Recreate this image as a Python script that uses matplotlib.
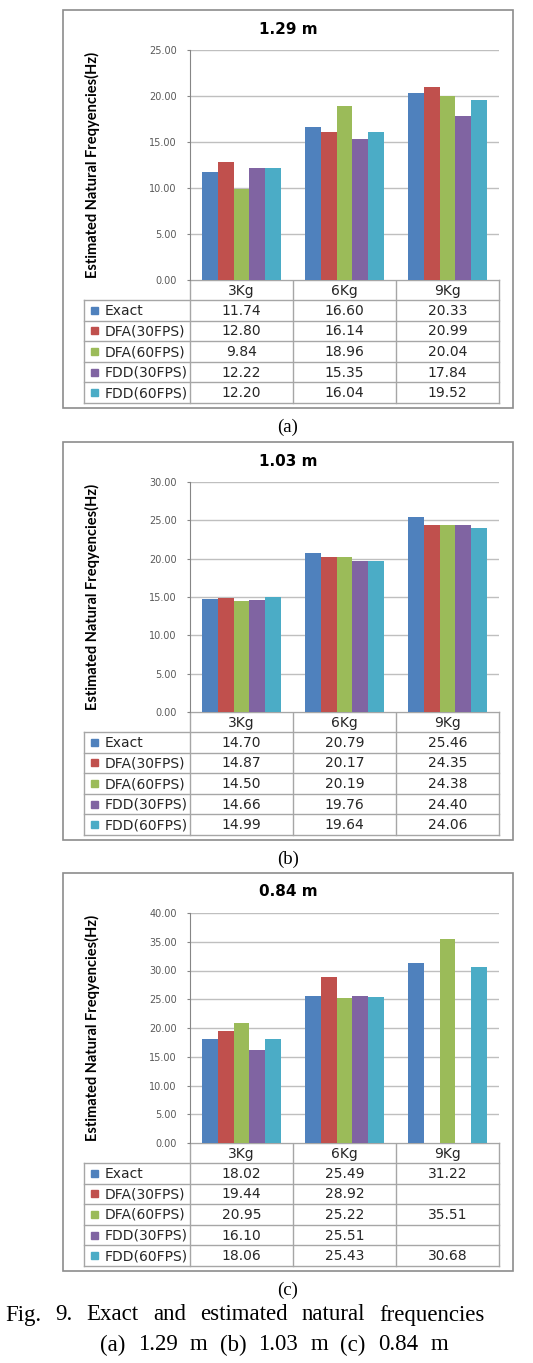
import matplotlib
matplotlib.use("Agg")
import matplotlib.pyplot as plt
from matplotlib.patches import Rectangle
from matplotlib.ticker import FormatStrFormatter
import numpy as np

# === Data ===
categories = ["3Kg", "6Kg", "9Kg"]
series_names = ["Exact", "DFA(30FPS)", "DFA(60FPS)", "FDD(30FPS)", "FDD(60FPS)"]
colors = ["#4F81BD", "#C0504D", "#9BBB59", "#8064A2", "#4BACC6"]

titles = ["1.29 m", "1.03 m", "0.84 m"]
panel_tags = ["(a)", "(b)", "(c)"]
y_max = [25, 30, 40]

# rows = series, columns = 3Kg, 6Kg, 9Kg
vals_129 = [[11.74, 16.60, 20.33],
            [12.80, 16.14, 20.99],
            [9.84, 18.96, 20.04],
            [12.22, 15.35, 17.84],
            [12.20, 16.04, 19.52]]
vals_103 = [[14.70, 20.79, 25.46],
            [14.87, 20.17, 24.35],
            [14.50, 20.19, 24.38],
            [14.66, 19.76, 24.40],
            [14.99, 19.64, 24.06]]
vals_084 = [[18.02, 25.49, 31.22],
            [19.44, 28.92, np.nan],
            [20.95, 25.22, 35.51],
            [16.10, 25.51, np.nan],
            [18.06, 25.43, 30.68]]
panel_vals = [vals_129, vals_103, vals_084]

y_label = "Estimated Natural Freqyencies(Hz)"
caption_line1 = "Fig. 9. Exact and estimated natural frequencies"
caption_line2 = "(a) 1.29 m (b) 1.03 m (c) 0.84 m"

# === Layout (pixels) ===
W, H = 533, 1363
box_tops = [10, 442, 873]
BOX_L, BOX_R = 63, 513
PLOT_L, PLOT_R = 190, 499
TAB_L = 84
PLOT_H = 230
HEAD_H = 20
ROW_H = 20.6
LINE_C = "#A6A6A6"

fig = plt.figure(figsize=(W / 100, H / 100), dpi=100)
bg = fig.add_axes([0, 0, 1, 1])
bg.set_xlim(0, W)
bg.set_ylim(H, 0)
bg.axis("off")

col_x = [PLOT_L + k * (PLOT_R - PLOT_L) / 3 for k in range(4)]
x = np.arange(len(categories))
bw = 0.155

for p in range(3):
    top = box_tops[p]
    plot_top = top + 40
    plot_bot = plot_top + PLOT_H
    tab_bot = plot_bot + HEAD_H + 5 * ROW_H
    box_bot = tab_bot + 5

    # outer box, title, caption
    bg.add_patch(Rectangle((BOX_L, top), BOX_R - BOX_L, box_bot - top,
                           fill=False, ec="#8C8C8C", lw=1.2))
    bg.text((BOX_L + BOX_R) / 2, top + 19, titles[p], ha="center", va="center",
            fontsize=11, fontweight="bold")
    bg.text((BOX_L + BOX_R) / 2, box_bot + 19, panel_tags[p], ha="center", va="center",
            family="Liberation Serif", fontsize=13.5)
    bg.text(92, (plot_top + plot_bot) / 2, y_label, rotation=90, ha="center", va="center",
            family="Lato", fontweight="bold", fontsize=10.5)

    # === Bars ===
    ax = fig.add_axes([PLOT_L / W, 1 - plot_bot / H, (PLOT_R - PLOT_L) / W, PLOT_H / H])
    vals = np.array(panel_vals[p], dtype=float)
    for i, c in enumerate(colors):
        m = ~np.isnan(vals[i])
        ax.bar(x[m] + (i - 2) * bw, vals[i][m], bw, color=c, zorder=3)
    ax.set_xlim(-0.5, 2.5)
    ax.set_ylim(0, y_max[p])
    ax.set_yticks(np.arange(0, y_max[p] + 1, 5))
    ax.yaxis.set_major_formatter(FormatStrFormatter("%.2f"))
    ax.set_xticks([])
    ax.grid(axis="y", color="#BFBFBF", lw=1, zorder=0)
    ax.tick_params(axis="y", length=2.5, width=0.8, color="#868686", pad=7,
                   labelsize=7, labelcolor="#595959")
    for s in ["top", "right", "bottom"]:
        ax.spines[s].set_visible(False)
    ax.spines["left"].set_color("#868686")

    # === Data table ===
    hb = plot_bot + HEAD_H
    bg.plot([PLOT_L, PLOT_R], [plot_bot, plot_bot], color=LINE_C, lw=1)
    for r in range(6):
        yy = hb + r * ROW_H
        bg.plot([TAB_L, PLOT_R], [yy, yy], color=LINE_C, lw=1)
    for cx in col_x:
        bg.plot([cx, cx], [plot_bot, tab_bot], color=LINE_C, lw=1)
    bg.plot([TAB_L, TAB_L], [hb, tab_bot], color=LINE_C, lw=1)

    for k, cat in enumerate(categories):
        bg.text((col_x[k] + col_x[k + 1]) / 2, plot_bot + HEAD_H / 2 + 1, cat,
                ha="center", va="center", fontsize=10, color="#262626")
    for i, name in enumerate(series_names):
        yc = hb + (i + 0.5) * ROW_H
        bg.add_patch(Rectangle((91, yc - 3.5), 7, 7, color=colors[i]))
        bg.text(105, yc + 0.5, name, ha="left", va="center", fontsize=10, color="#262626")
        for k in range(3):
            v = vals[i][k]
            if not np.isnan(v):
                bg.text((col_x[k] + col_x[k + 1]) / 2, yc + 0.5, f"{v:.2f}",
                        ha="center", va="center", fontsize=10, color="#262626")


# === Figure caption (justified lines) ===
def justify(text, x0, x1, y, **kw):
    r = fig.canvas.get_renderer()
    ts = [bg.text(0, y, w, ha="left", va="center", **kw) for w in text.split()]
    widths = [t.get_window_extent(r).width for t in ts]
    gap = (x1 - x0 - sum(widths)) / (len(ts) - 1)
    xx = x0
    for t, w in zip(ts, widths):
        t.set_x(xx)
        xx += w + gap


justify(caption_line1, 5, 485, 1315, family="Liberation Serif", fontsize=16.5)
justify(caption_line2, 100, 448, 1345, family="Liberation Serif", fontsize=16.5)

fig.savefig("out.png", dpi=100, facecolor="white")
